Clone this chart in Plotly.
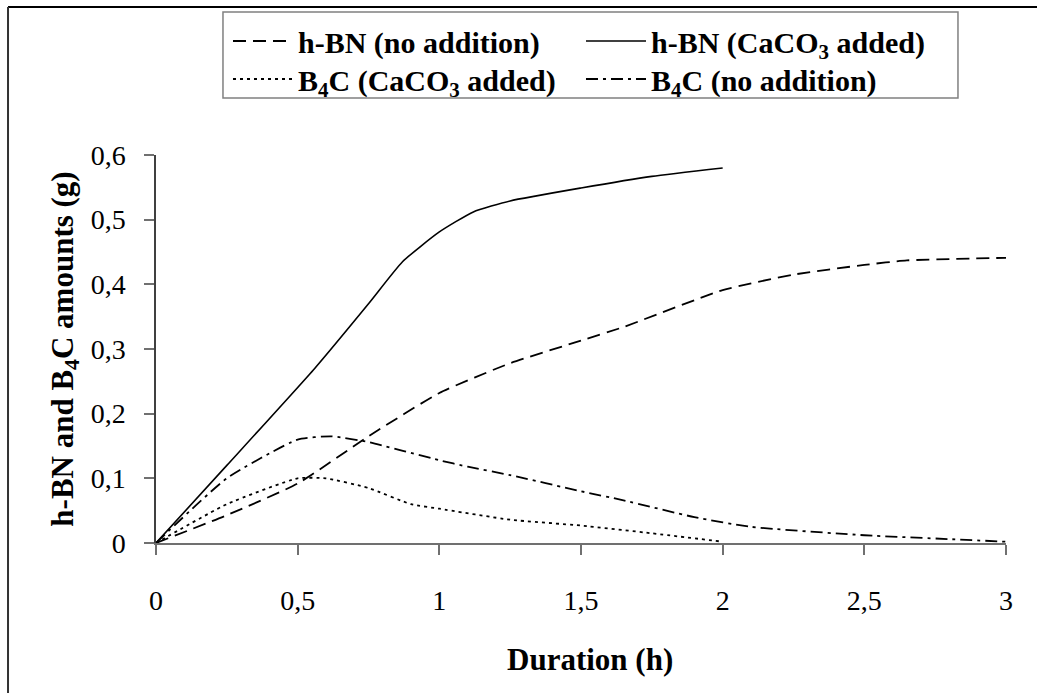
import plotly.graph_objects as go

# Data
x_hbn_no = [0, 0.25, 0.5, 0.75, 1.0, 1.25, 1.5, 1.65, 2.0, 2.25, 2.5, 2.65, 3.0]
y_hbn_no = [0, 0.043, 0.092, 0.165, 0.232, 0.278, 0.313, 0.334, 0.391, 0.415, 0.43, 0.437, 0.441]

x_hbn_ca = [0, 0.25, 0.56, 0.75, 0.87, 1.0, 1.12, 1.25, 1.5, 1.75, 2.0]
y_hbn_ca = [0, 0.12, 0.27, 0.37, 0.435, 0.481, 0.512, 0.529, 0.549, 0.567, 0.58]

x_b4c_ca = [0, 0.25, 0.5, 0.6, 0.75, 0.9, 1.0, 1.25, 1.5, 1.75, 2.0]
y_b4c_ca = [0, 0.06, 0.1, 0.1, 0.085, 0.06, 0.053, 0.036, 0.027, 0.015, 0.002]

x_b4c_no = [0, 0.25, 0.5, 0.62, 0.75, 1.0, 1.1, 1.25, 1.5, 1.65, 1.9, 2.1, 2.5, 2.8, 3.0]
y_b4c_no = [0, 0.1, 0.16, 0.165, 0.156, 0.128, 0.118, 0.105, 0.08, 0.066, 0.04, 0.025, 0.012, 0.006, 0.002]

x_ticks = [0, 0.5, 1, 1.5, 2, 2.5, 3]
x_tick_text = ["0", "0,5", "1", "1,5", "2", "2,5", "3"]
y_ticks = [0, 0.1, 0.2, 0.3, 0.4, 0.5, 0.6]
y_tick_text = ["0", "0,1", "0,2", "0,3", "0,4", "0,5", "0,6"]

x_title = "Duration (h)"
y_title = "h-BN and B<sub>4</sub>C amounts (g)"

FONT = "Liberation Serif"

fig = go.Figure()
fig.add_trace(go.Scatter(x=x_hbn_no, y=y_hbn_no, mode="lines", name="<b>h-BN (no addition)</b>", legend="legend",
                         line=dict(color="black", width=1.8, dash="13px,7px", shape="spline", smoothing=0.5)))
fig.add_trace(go.Scatter(x=x_hbn_ca, y=y_hbn_ca, mode="lines", name="<b>h-BN (CaCO<sub>3</sub> added)</b>", legend="legend",
                         line=dict(color="black", width=1.6, shape="spline", smoothing=0.5)))
fig.add_trace(go.Scatter(x=x_b4c_ca, y=y_b4c_ca, mode="lines", name="<b>B<sub>4</sub>C (CaCO<sub>3</sub> added)</b>", legend="legend2",
                         line=dict(color="black", width=1.8, dash="3px,4px", shape="spline", smoothing=0.5)))
fig.add_trace(go.Scatter(x=x_b4c_no, y=y_b4c_no, mode="lines", name="<b>B<sub>4</sub>C (no addition)</b>", legend="legend2",
                         line=dict(color="black", width=1.8, dash="12px,5px,3px,5px", shape="spline", smoothing=0.5)))

legend_common = dict(
    orientation="h", x=0.0847, xanchor="left", yanchor="middle",
    borderwidth=0, bgcolor="rgba(0,0,0,0)",
    font=dict(family=FONT, size=30, color="black"),
    entrywidth=278, itemwidth=60, tracegroupgap=0,
)

fig.update_layout(
    width=1037, height=693,
    margin=dict(l=156, r=31, t=155, b=150),
    paper_bgcolor="white", plot_bgcolor="white",
    font=dict(family=FONT, size=28, color="black"),
    showlegend=True,
    legend=dict(legend_common, y=1.2938),
    legend2=dict(legend_common, y=1.1959),
    xaxis=dict(
        range=[0, 3], tickvals=x_ticks, ticktext=x_tick_text,
        showgrid=False, zeroline=False, showline=True, linecolor="#707070", linewidth=1.5,
        ticks="outside", ticklen=10, tickcolor="#707070", tickwidth=1.5,
        tickfont=dict(family=FONT, size=28, color="black"), ticklabelstandoff=22,
    ),
    yaxis=dict(
        range=[0, 0.6], tickvals=y_ticks, ticktext=y_tick_text,
        showgrid=False, zeroline=False, showline=True, linecolor="#404040", linewidth=1.5,
        ticks="outside", ticklen=10, tickcolor="#707070", tickwidth=1.5,
        tickfont=dict(family=FONT, size=28, color="black"), ticklabelstandoff=13,
        title=dict(text="<b>" + y_title + "</b>", font=dict(family=FONT, size=31, color="black"), standoff=8),
    ),
)

# X axis title as annotation (centred like the reference)
fig.add_annotation(text="<b>" + x_title + "</b>", xref="paper", yref="paper", x=0.5106, y=-0.3015,
                   xanchor="center", yanchor="middle", showarrow=False,
                   font=dict(family=FONT, size=31, color="black"))

# Legend box
fig.add_shape(type="rect", xref="paper", yref="paper", x0=0.0788, x1=0.9435, y0=1.1469, y1=1.3686,
              line=dict(color="#808080", width=1.5), fillcolor="rgba(0,0,0,0)", layer="below")

# Outer frame (top and left edges visible)
fig.add_shape(type="line", xref="paper", yref="paper", x0=-0.1741, x1=1.2, y0=1.3814, y1=1.3814,
              line=dict(color="black", width=2))
fig.add_shape(type="line", xref="paper", yref="paper", x0=-0.1741, x1=-0.1741, y0=1.3814, y1=-0.6,
              line=dict(color="#333333", width=2))

fig.write_html("out.html", config={"displayModeBar": False},
               post_script="document.body.style.margin='0';")
